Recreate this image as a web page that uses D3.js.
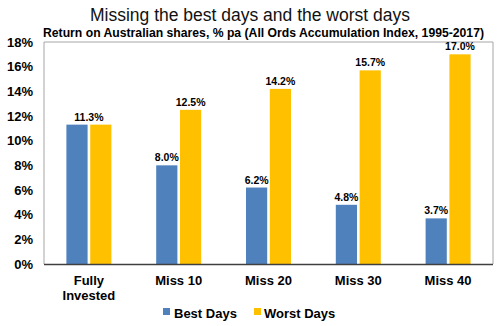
<!DOCTYPE html>
<html><head><meta charset="utf-8">
<script src="https://cdn.jsdelivr.net/npm/d3@7"></script>
<style>body{margin:0;background:#fff}svg{display:block;font-family:Arial,"Liberation Sans",sans-serif}</style>
</head><body><svg id="c" width="500" height="326"></svg>
<script>
const categories = [["Fully","Invested"],["Miss 10"],["Miss 20"],["Miss 30"],["Miss 40"]];
const seriesNames = ["Best Days","Worst Days"];
const bestDays = [11.3, 8.0, 6.2, 4.8, 3.7];
const worstDays = [11.3, 12.5, 14.2, 15.7, 17.0];
const yTicks = [0,2,4,6,8,10,12,14,16,18];
const colors = ["#4f81bd","#ffc000"];

const svg = d3.select("#c");
const L=44, R=493, T=42, B=264;
const x = d3.scaleBand().domain(d3.range(categories.length)).range([L,R]);
const xs = d3.scaleBand().domain([0,1]).range([0,45]).paddingInner(0.11);
const y = d3.scaleLinear().domain([0,18]).range([B,T]);

svg.append("text").attr("x",250).attr("y",21).attr("text-anchor","middle")
  .attr("font-size",17.5).attr("fill","#111").text("Missing the best days and the worst days");
svg.append("text").attr("x",263.5).attr("y",37).attr("text-anchor","middle")
  .attr("font-size",12.3).attr("font-weight","bold")
  .attr("textLength",441).attr("lengthAdjust","spacingAndGlyphs")
  .text("Return on Australian shares, % pa (All Ords Accumulation Index, 1995-2017)");

// frame
svg.append("path").attr("d",`M${L},${B}V${T}H${R}V${B}`).attr("fill","none").attr("stroke","#a6a6a6").attr("stroke-width",1);

const yAxis = svg.append("g").attr("transform",`translate(${L},0)`)
  .call(d3.axisLeft(y).tickValues(yTicks).tickFormat(d=>d+"%").tickSize(0).tickPadding(11));
yAxis.select(".domain").remove();
yAxis.selectAll("text").attr("font-size",13).attr("font-weight","bold").attr("fill","#000").attr("font-family","Arial,'Liberation Sans',sans-serif");

const data = [bestDays, worstDays];
categories.forEach((c,i)=>{
  const same = bestDays[i] === worstDays[i];
  data.forEach((s,j)=>{
    const bx = x(i) + (x.bandwidth()-45)/2 + xs(j);
    svg.append("rect").attr("x",bx).attr("y",y(s[i])).attr("width",xs.bandwidth())
      .attr("height",B-y(s[i])).attr("fill",colors[j]);
    if (same && j===1) return;
    const lx = same ? x(i)+x.bandwidth()/2 : bx+xs.bandwidth()/2;
    svg.append("text").attr("x",lx).attr("y",y(s[i])-4)
      .attr("text-anchor","middle").attr("font-size",10.5).attr("font-weight","bold")
      .text(s[i].toFixed(1)+"%");
  });
});

svg.append("line").attr("x1",L).attr("x2",R).attr("y1",B+0.5).attr("y2",B+0.5).attr("stroke","#404040").attr("stroke-width",1.3);

const xAxis = svg.append("g").attr("transform",`translate(0,${B})`)
  .call(d3.axisBottom(x).tickSize(0).tickFormat(""));
xAxis.select(".domain").remove();
categories.forEach((c,i)=>{
  const t = svg.append("text").attr("text-anchor","middle").attr("font-size",13).attr("font-weight","bold");
  c.forEach((line,k)=>t.append("tspan").attr("x",x(i)+x.bandwidth()/2).attr("y",285+k*15).text(line));
});

// legend
const lg = [{x:163,tx:174},{x:254,tx:264}];
seriesNames.forEach((n,j)=>{
  svg.append("rect").attr("x",lg[j].x).attr("y",308).attr("width",7).attr("height",7).attr("fill",colors[j]);
  svg.append("text").attr("x",lg[j].tx).attr("y",318).attr("font-size",13).attr("font-weight","bold").text(n);
});
</script></body></html>
